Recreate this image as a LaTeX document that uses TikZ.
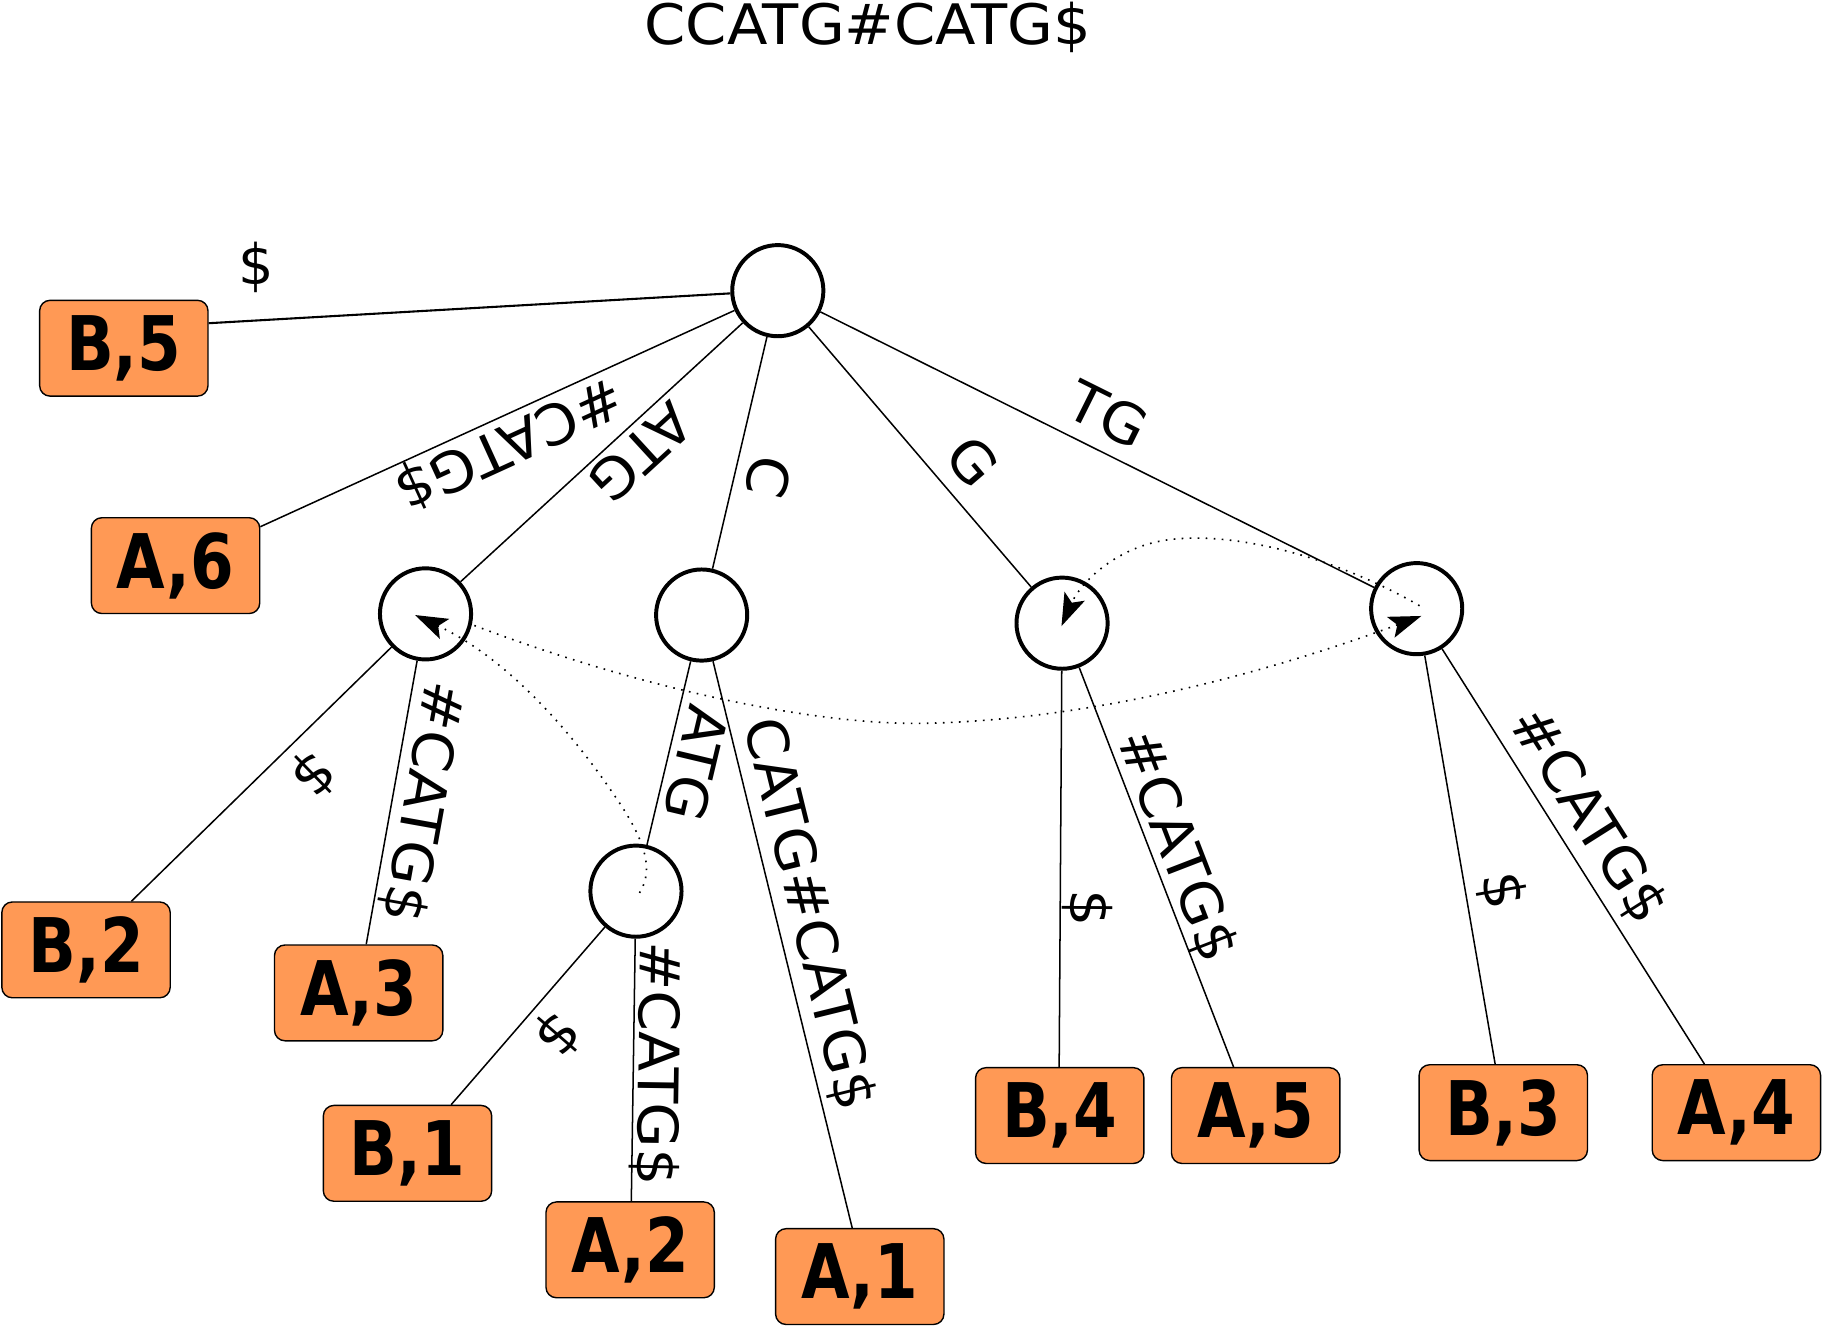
\documentclass[tikz,border=0pt]{standalone}
\usepackage{fontspec}
\setmainfont{DejaVu Sans}
\usetikzlibrary{calc,arrows.meta}
\definecolor{leaf}{HTML}{FF9955}
\newcommand{\lbltxt}[1]{\scalebox{1.05}[1]{#1}}
\newcommand{\leaftxt}[1]{\scalebox{1}[1.2]{#1}}
\begin{document}
\begin{tikzpicture}[x=0.5pt,y=-0.5pt,
  inode/.style={circle,draw,line width=1.7pt,minimum size=39.2pt,inner sep=0pt,fill=white},
  leafbox/.style={rectangle,rounded corners=4.5pt,draw,line width=0.6pt,fill=leaf,
    minimum width=72.4pt,minimum height=41.2pt,inner sep=0pt,
    font=\fontsize{27}{27}\selectfont\bfseries},
  treeline/.style={line width=0.65pt},
  lbl/.style={sloped,allow upside down,anchor=south,inner sep=0pt,inner ysep=#1,
    text depth=0pt,font=\fontsize{24}{24}\selectfont},
  lbl/.default=4.5pt,
  suflink/.style={line width=0.7pt,dash pattern=on 0.7pt off 2.75pt,
    -{Stealth[length=14pt,width=9.5pt,inset=3pt]}}
]
\useasboundingbox (0,0) rectangle (1568,1141.3);

% title
\node[anchor=base,inner sep=0pt,font=\fontsize{24}{24}\selectfont] (title) at (746.5,38.7)
  {\scalebox{1.06}[1]{CCATG\#CATG\$}};

% internal nodes
\node[inode] (root) at (669,250) {};
\node[inode] (n1) at (366,528) {};
\node[inode] (n2) at (603.5,529) {};
\node[inode] (n3) at (913.5,536) {};
\node[inode] (n4) at (1218.5,523.5) {};
\node[inode] (n5) at (547,766.5) {};

% leaves
\node[leafbox] (b5) at (106.5,299.5) {\leaftxt{B,5}};
\node[leafbox] (a6) at (151,486.5) {\leaftxt{A,6}};
\node[leafbox] (b2) at (74,817) {\leaftxt{B,2}};
\node[leafbox] (a3) at (308.5,854) {\leaftxt{A,3}};
\node[leafbox] (b1) at (350.5,992) {\leaftxt{B,1}};
\node[leafbox] (a2) at (542,1075) {\leaftxt{A,2}};
\node[leafbox] (a1) at (739.5,1098) {\leaftxt{A,1}};
\node[leafbox] (b4) at (911.5,959.5) {\leaftxt{B,4}};
\node[leafbox] (a5) at (1080,959.5) {\leaftxt{A,5}};
\node[leafbox] (b3) at (1293,957) {\leaftxt{B,3}};
\node[leafbox] (a4) at (1493.5,957) {\leaftxt{A,4}};

% tree edges
\draw[treeline,line width=0.9pt] (root) -- ($(b5.east)+(0,-21.5)$);
\node[anchor=base,inner sep=0pt,font=\fontsize{24}{24}\selectfont] (lb5) at (220.6,244.6) {\$};
\draw[treeline] (root) -- node[lbl=3.75pt,pos=0.50] (la6) {\lbltxt{\#CATG\$}} ($(a6.east)+(0,-33.5)$);
\draw[treeline] (root) -- node[lbl=2.5pt,pos=0.425] (ln1) {\lbltxt{ATG}} (n1);
\draw[treeline] (root) -- node[lbl=5.25pt,pos=0.57] (ln2) {\lbltxt{C}} (n2);
\draw[treeline] (root) -- node[lbl=7pt,pos=0.61] (ln3) {\lbltxt{G}} (n3);
\draw[treeline] (root) -- node[lbl=6.75pt,pos=0.49] (ln4) {\lbltxt{TG}} (n4);

\draw[treeline] (n1) -- node[lbl=8pt,pos=0.40] (lb2) {\lbltxt{\$}} ($(b2.north)+(39,0)$);
\draw[treeline] (n1) -- node[lbl=5pt,pos=0.48] (la3) {\lbltxt{\#CATG\$}} ($(a3.north)+(6.5,0)$);

\draw[treeline] (n2) -- node[lbl=3.5pt,pos=0.52] (ln5) {\lbltxt{ATG}} (n5);
\draw[treeline] (n2) -- node[lbl=6pt,pos=0.46] (la1) {\lbltxt{CATG\#CATG\$}} ($(a1.north)+(-6.5,0)$);

\draw[treeline] (n5) -- node[lbl=7pt,pos=0.48] (lb1) {\lbltxt{\$}} ($(b1.north)+(37.5,0)$);
\draw[treeline] (n5) -- node[lbl=2pt,pos=0.475] (la2) {\lbltxt{\#CATG\$}} ($(a2.north)+(1,0)$);

\draw[treeline] (n3) -- node[lbl=4pt,pos=0.60] (lb4) {\lbltxt{\$}} ($(b4.north)+(-0.5,0)$);
\draw[treeline] (n3) -- node[lbl=3.5pt,pos=0.47] (la5) {\lbltxt{\#CATG\$}} ($(a5.north)+(-19,0)$);

\draw[treeline] (n4) -- node[lbl=7.5pt,pos=0.59] (lb3) {\lbltxt{\$}} ($(b3.north)+(-7,0)$);
\draw[treeline] (n4) -- node[lbl=6.75pt,pos=0.446] (la4) {\lbltxt{\#CATG\$}} ($(a4.north)+(-27.5,0)$);

% suffix links
\draw[suflink] ($(n5.center)+(3,1.5)$) .. controls (565,745) and (550,715) .. (527,682)
  .. controls (495,635) and (440,568) .. ($(n1.center)+(-9,1)$);
\draw[suflink] ($(n1.center)+(42,10)$) .. controls (545,590) and (700,625) .. (800,622)
  .. controls (950,618) and (1100,575) .. ($(n4.center)+(4,6.3)$);
\draw[suflink] ($(n4.center)+(2.5,-2.5)$) .. controls (1150,480) and (1060,455) .. (1000,465)
  .. controls (960,472) and (930,500) .. ($(n3.center)+(-0.5,2.5)$);
\end{tikzpicture}
\end{document}
